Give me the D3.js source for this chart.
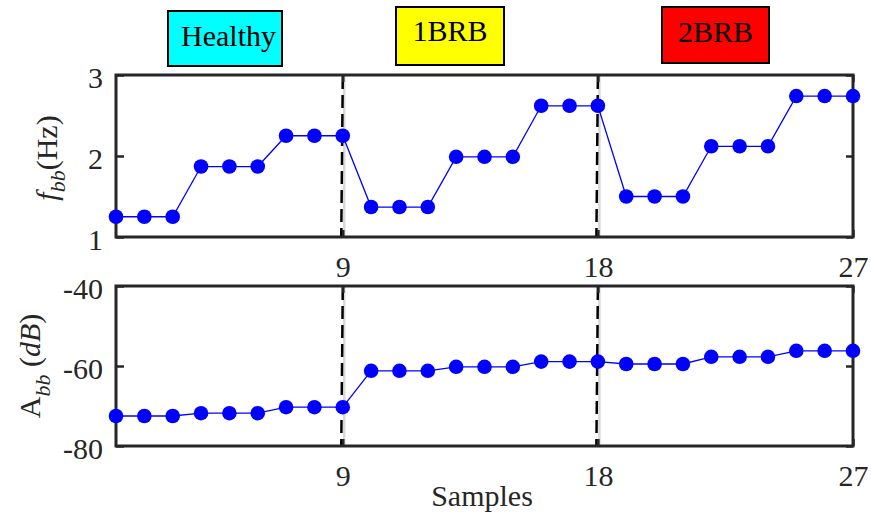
<!DOCTYPE html>
<html>
<head>
<meta charset="utf-8">
<script src="https://cdn.jsdelivr.net/npm/d3@7"></script>
<style>
  html, body { margin: 0; padding: 0; background: #fff; }
  svg { display: block; }
</style>
</head>
<body>
<svg id="chart" width="871" height="515"></svg>
<script>
// Sample index along the x axis
const samples = [1, 2, 3, 4, 5, 6, 7, 8, 9, 10, 11, 12, 13, 14, 15, 16, 17, 18, 19, 20, 21, 22, 23, 24, 25, 26, 27];
// Broken-bar sideband frequency (Hz)
const fbb = [1.25, 1.25, 1.25, 1.87, 1.87, 1.87, 2.25, 2.25, 2.25,
             1.37, 1.37, 1.37, 1.99, 1.99, 1.99, 2.62, 2.62, 2.62,
             1.50, 1.50, 1.50, 2.12, 2.12, 2.12, 2.74, 2.74, 2.74];
// Broken-bar sideband amplitude (dB)
const abb = [-72.5, -72.5, -72.5, -71.8, -71.8, -71.8, -70.3, -70.3, -70.3,
             -61.2, -61.2, -61.2, -60.2, -60.2, -60.2, -58.9, -58.9, -58.9,
             -59.5, -59.5, -59.5, -57.7, -57.7, -57.7, -56.2, -56.2, -56.2];
// Axis ticks
const xTicks = [9, 18, 27];
const fTicks = [1, 2, 3];
const aTicks = [-80, -60, -40];
// Condition boundaries
const boundaries = [9, 18];
// Condition labels
const conditions = ["Healthy", "1BRB", "2BRB"];
const conditionColors = ["#00ffff", "#ffff00", "#ff0000"];

const svg = d3.select("#chart");
const FONT = "'Liberation Serif', 'Times New Roman', serif";
const FS = 30;
const AXIS_COLOR = "#262626";
const plain = d => String(d);

const x = d3.scaleLinear().domain([1, 27]).range([116, 853]);

const panels = [
  { values: fbb, ticks: fTicks, domain: [1, 3], top: 75, bottom: 237 },
  { values: abb, ticks: aTicks, domain: [-80, -40], top: 286, bottom: 446 }
];

panels.forEach((p, i) => {
  const y = d3.scaleLinear().domain(p.domain).range([p.bottom, p.top]);
  const g = svg.append("g");

  // boundary markers
  boundaries.forEach(b => {
    g.append("line")
      .attr("x1", x(b) + 1.5).attr("x2", x(b) + 1.5)
      .attr("y1", p.top).attr("y2", p.bottom)
      .attr("stroke", "#d8d8d8").attr("stroke-width", 2.5);
    g.append("line")
      .attr("x1", x(b)).attr("x2", x(b) - 1.5)
      .attr("y1", p.top + 1).attr("y2", p.bottom)
      .attr("stroke", "#000").attr("stroke-width", 2.5)
      .attr("stroke-dasharray", "13,6");
  });

  // axes
  const styleAxis = sel => {
    sel.select(".domain").remove();
    sel.attr("font-family", FONT).attr("font-size", FS);
    sel.selectAll("line").attr("stroke", AXIS_COLOR).attr("stroke-width", 2.5);
    sel.selectAll("text").attr("fill", AXIS_COLOR);
  };

  g.append("g")
    .attr("transform", `translate(${x.range()[0]},0)`)
    .call(d3.axisLeft(y).tickValues(p.ticks).tickFormat(plain).tickSize(-8).tickPadding(13))
    .call(styleAxis)
    .selectAll("text").attr("dy", "0.4em");

  g.append("g")
    .attr("transform", `translate(${x.range()[1]},0)`)
    .call(d3.axisRight(y).tickValues(p.ticks).tickSize(-7).tickFormat(""))
    .call(styleAxis);

  g.append("g")
    .attr("transform", `translate(0,${p.bottom})`)
    .call(d3.axisBottom(x).tickValues(xTicks).tickFormat(plain).tickSize(-7).tickPadding(19))
    .call(styleAxis);

  g.append("g")
    .attr("transform", `translate(0,${p.top})`)
    .call(d3.axisTop(x).tickValues(xTicks).tickSize(-7).tickFormat(""))
    .call(styleAxis);

  // frame
  g.append("rect")
    .attr("x", x.range()[0]).attr("y", p.top)
    .attr("width", x.range()[1] - x.range()[0])
    .attr("height", p.bottom - p.top)
    .attr("fill", "none").attr("stroke", AXIS_COLOR).attr("stroke-width", 3);

  // series
  const pts = samples.map((s, k) => [s, p.values[k]]);
  g.append("path")
    .datum(pts)
    .attr("fill", "none").attr("stroke", "#0000ff").attr("stroke-width", 1.3)
    .attr("d", d3.line().x(d => x(d[0])).y(d => y(d[1])));
  g.selectAll("circle")
    .data(pts).join("circle")
    .attr("cx", d => x(d[0])).attr("cy", d => y(d[1]))
    .attr("r", 7.3).attr("fill", "#0000ff");
});

// y-axis titles
const t1 = svg.append("text")
  .attr("transform", "translate(57,158) rotate(-90)")
  .attr("text-anchor", "middle")
  .attr("font-family", FONT).attr("font-size", FS).attr("fill", AXIS_COLOR);
t1.append("tspan").attr("font-style", "italic").text("f");
t1.append("tspan").attr("font-style", "italic").attr("font-size", 22).attr("dy", 8).text("bb");
t1.append("tspan").attr("dy", -8).text("(Hz)");

const t2 = svg.append("text")
  .attr("transform", "translate(40,366) rotate(-90)")
  .attr("text-anchor", "middle")
  .attr("font-family", FONT).attr("font-size", FS).attr("fill", AXIS_COLOR);
t2.append("tspan").text("A");
t2.append("tspan").attr("font-style", "italic").attr("font-size", 22).attr("dy", 10).text("bb");
t2.append("tspan").attr("dy", -10).text("\u00a0(");
t2.append("tspan").attr("font-style", "italic").text("dB");
t2.append("tspan").text(")");

// x-axis title
svg.append("text")
  .attr("x", 482).attr("y", 506)
  .attr("text-anchor", "middle")
  .attr("font-family", FONT).attr("font-size", FS).attr("fill", AXIS_COLOR)
  .text("Samples");

// condition labels
const boxes = [
  { x0: 168, x1: 282, y0: 11, y1: 66, tx: 181, anchor: "start", base: 46 },
  { x0: 396, x1: 504, y0: 7, y1: 65, tx: 450, anchor: "middle", base: 41 },
  { x0: 662, x1: 769, y0: 7, y1: 63, tx: 715.5, anchor: "middle", base: 42 }
];
const lg = svg.append("g");
conditions.forEach((c, i) => {
  const b = boxes[i];
  lg.append("rect")
    .attr("x", b.x0).attr("y", b.y0)
    .attr("width", b.x1 - b.x0).attr("height", b.y1 - b.y0)
    .attr("fill", conditionColors[i]).attr("stroke", "#000").attr("stroke-width", 2);
  lg.append("text")
    .attr("x", b.tx).attr("y", b.base)
    .attr("text-anchor", b.anchor)
    .attr("font-family", FONT).attr("font-size", FS).attr("fill", "#000")
    .text(c);
});
</script>
</body>
</html>
